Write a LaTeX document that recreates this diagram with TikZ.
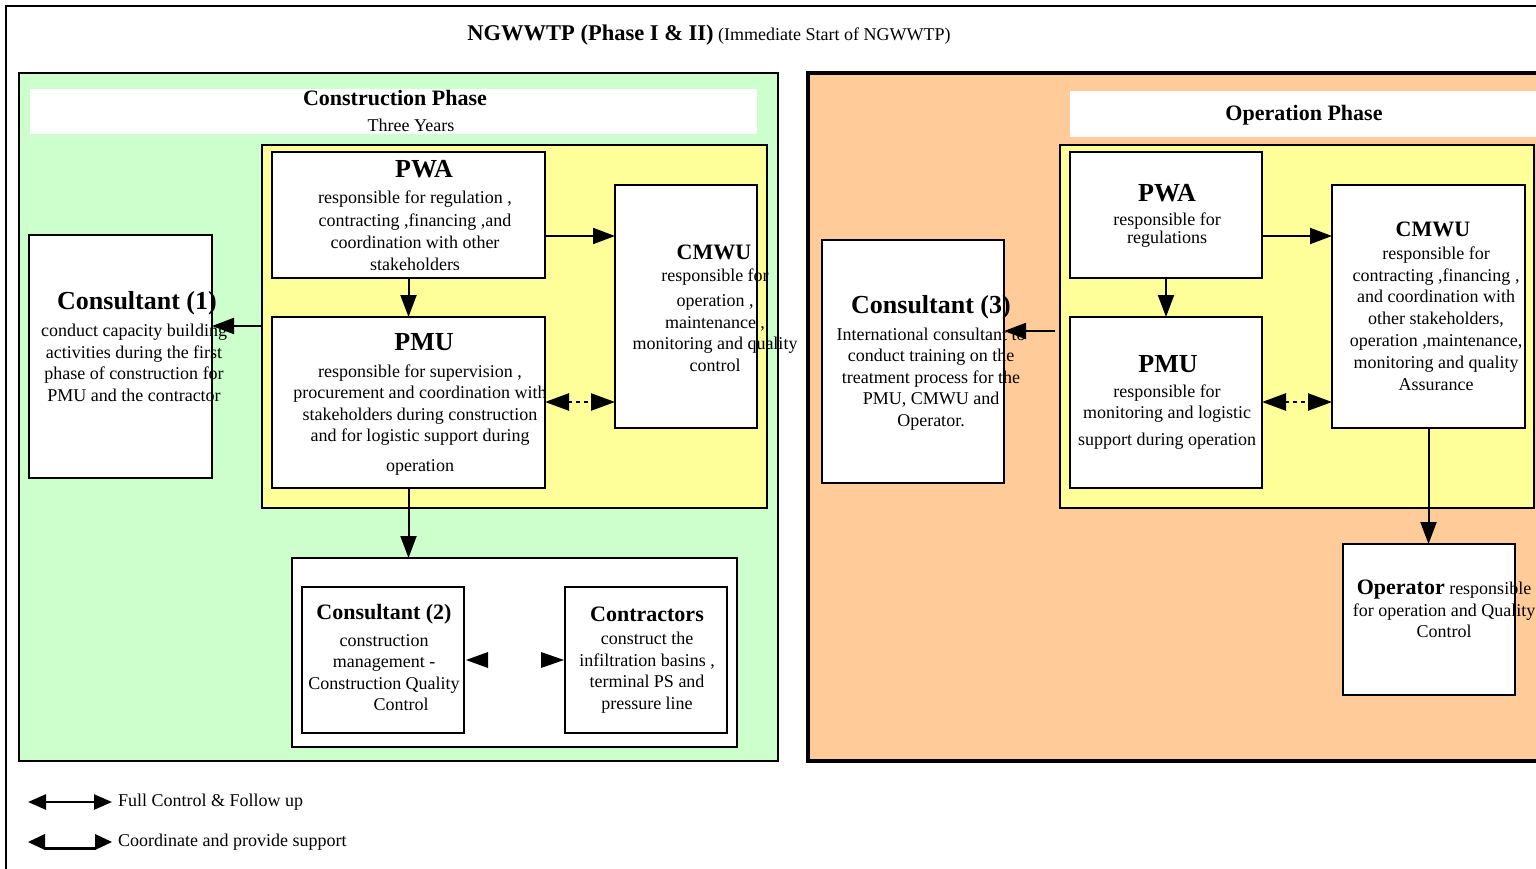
\documentclass[tikz,border=0pt]{standalone}
\usepackage{fontspec}
\setmainfont{Liberation Serif}
\usetikzlibrary{arrows.meta,calc}
\definecolor{cgreen}{HTML}{CCFFCC}
\definecolor{cyellow}{HTML}{FFFF99}
\definecolor{corange}{HTML}{FFCC99}
\newcommand{\fbody}{\fontsize{18}{21.5}\selectfont}
\newcommand{\fbig}{\fontsize{26}{30}\selectfont\bfseries}
\newcommand{\fmid}{\fontsize{22}{26}\selectfont\bfseries}
\begin{document}
\begin{tikzpicture}[x=1pt,y=-1pt,
  box/.style={draw, line width=2pt, fill=white, anchor=north west, inner sep=0pt, outer sep=0pt},
  area/.style={draw, line width=2pt, anchor=north west, inner sep=0pt, outer sep=0pt},
  tx/.style={align=center, inner sep=0pt, font=\fbody},
  big/.style={inner sep=0pt, font=\fbig},
  mid/.style={inner sep=0pt, font=\fmid},
  arr/.style={line width=2pt, -{Triangle[length=22pt,width=16pt]}},
  darr/.style={line width=2.5pt, dash pattern=on 4pt off 4pt,
    {Triangle[length=24pt,width=17pt]}-{Triangle[length=24pt,width=17pt]}},
]
\useasboundingbox (0,0) rectangle (1536,869);
\fill[white] (0,0) rectangle (1536,869);
% outer frame
\draw[line width=2.5pt] (6,869) -- (6,6) -- (1536,6);
\node[inner sep=0pt] (title) at (709,35) {\fontsize{22.5}{26}\selectfont\bfseries NGWWTP (Phase I \& II)\mdseries\fontsize{18}{20}\selectfont{} (Immediate Start of NGWWTP)};

% ---------------- construction phase ----------------
\node[area, fill=cgreen, minimum width=759pt, minimum height=688pt] (conph) at (19,73) {};
\node[anchor=north west, fill=white, inner sep=0pt, minimum width=727pt, minimum height=45pt] (contitle) at (30,89) {};
\node[mid] (conphT) at (395,98) {Construction Phase};
\node[tx] (conphY) at (411,125) {Three Years};
\node[area, fill=cyellow, minimum width=505pt, minimum height=363pt] (yelL) at (262,145) {};
\node[box, minimum width=273pt, minimum height=126pt] (pwaL) at (272,152) {};
\node[box, minimum width=273pt, minimum height=171pt] (pmuL) at (272,317) {};
\node[box, minimum width=142pt, minimum height=243pt] (cmwuL) at (615,185) {};
\node[box, minimum width=183pt, minimum height=243pt] (cons1) at (29,235) {};
\node[box, minimum width=445pt, minimum height=189pt] (botL) at (292,558) {};
\node[box, minimum width=162pt, minimum height=146pt] (cons2) at (302,587) {};
\node[box, minimum width=162pt, minimum height=146pt] (contr) at (565,587) {};

\coordinate (y236) at (0,236);
\coordinate (y402) at (0,402);
\coordinate (y326) at (0,326);
\coordinate (y331) at (0,331);
\draw[arr] (pwaL.east |- y236) -- (cmwuL.west |- y236);
\draw[arr] (pwaL.south) -- (pmuL.north);
\draw[darr] (pmuL.east |- y402) -- (cmwuL.west |- y402);
\draw[arr] (yelL.west |- y326) -- (cons1.east |- y326);
\draw[arr] (pmuL.south) -- (botL.north -| pmuL.south);
\fill (cons2.east) ++(2,0) -- ++(22,-8) -- ++(0,16) -- cycle;
\fill (contr.west) ++(-1,0) -- ++(-23,-8) -- ++(0,16) -- cycle;

\node[big] (pwaLT) at (424,169) {PWA};
\node[tx, font=\fontsize{18}{22.3}\selectfont] (pwaLt) at (415,231) {responsible for regulation ,\\ contracting ,financing ,and\\ coordination with other\\ stakeholders};
\node[big] (pmuLT) at (424,342) {PMU};
\node[tx] (pmuLt) at (420,420) {responsible for supervision ,\\ procurement and coordination with\\ stakeholders during construction\\ and for logistic support during\\[8pt] operation};
\node[mid] (cmwuLT) at (714,252) {CMWU};
\node[tx] (cmwuLt) at (715,320) {responsible for\\[4pt] operation ,\\ maintenance ,\\ monitoring and quality\\ control};
\node[big] (cons1T) at (137,303) {Consultant (1)};
\node[tx] (cons1t) at (134,363) {conduct capacity building\\ activities during the first\\ phase of construction for\\ PMU and the contractor};
\node[mid] (cons2T) at (384,614) {Consultant (2)};
\node[tx] (cons2t) at (384,672.5) {construction\\ management -\\ Construction Quality\\ \hspace*{34pt}Control};
\node[mid] (contrT) at (647,614) {Contractors};
\node[tx] (contrt) at (647,672.5) {construct the\\ infiltration basins ,\\ terminal PS and\\ pressure line};

% ---------------- operation phase ----------------
\node[area, line width=3.5pt, fill=corange, minimum width=740pt, minimum height=688pt] (opph) at (808,73) {};
\node[anchor=north west, fill=white, inner sep=0pt, minimum width=466pt, minimum height=46pt] (optitle) at (1070,91) {};
\node[mid] (opphT) at (1304,115) {Operation Phase};
\node[area, fill=cyellow, minimum width=474pt, minimum height=363pt] (yelR) at (1060,145) {};
\node[box, minimum width=192pt, minimum height=126pt] (pwaR) at (1070,152) {};
\node[box, minimum width=192pt, minimum height=171pt] (pmuR) at (1070,317) {};
\node[box, minimum width=193pt, minimum height=243pt] (cmwuR) at (1332,185) {};
\node[box, minimum width=182pt, minimum height=243pt] (cons3) at (822,240) {};
\node[box, minimum width=172pt, minimum height=151pt] (oper) at (1343,544) {};

\draw[arr] (pwaR.east |- y236) -- (cmwuR.west |- y236);
\draw[arr] (pwaR.south) -- (pmuR.north);
\draw[darr] (pmuR.east |- y402) -- (cmwuR.west |- y402);
\draw[arr] ($(yelR.west |- y331)+(-5,0)$) -- (cons3.east |- y331);
\draw[arr] (cmwuR.south) -- (cmwuR.south |- oper.north);

\node[big] (pwaRT) at (1167,193) {PWA};
\node[tx, font=\fontsize{18}{18}\selectfont] (pwaRt) at (1167,230) {responsible for\\ regulations};
\node[big] (pmuRT) at (1168,364) {PMU};
\node[tx] (pmuRt) at (1167,417) {responsible for\\ monitoring and logistic\\[5pt] support during operation};
\node[mid] (cmwuRT) at (1433,229) {CMWU};
\node[tx, font=\fontsize{18}{21.8}\selectfont] (cmwuRt) at (1436,318.5) {responsible for\\ contracting ,financing ,\\ and coordination with\\ other stakeholders,\\ operation ,maintenance,\\ monitoring and quality\\ Assurance};
\node[big] (cons3T) at (931,307) {Consultant (3)};
\node[tx] (cons3t) at (931,379) {International consultant to\\ conduct training on the\\ treatment process for the\\ PMU, CMWU and\\ Operator.};
\node[tx] (opert) at (1444,609) {{\fontsize{22}{22}\selectfont\bfseries Operator} responsible\\ for operation and Quality\\ Control};

% ---------------- legend ----------------
\coordinate (l1a) at (28,802);
\coordinate (l1b) at (112,802);
\draw[line width=2.5pt, {Triangle[length=18pt,width=15pt]}-{Triangle[length=18pt,width=15pt]}] (l1a) -- (l1b);
\node[tx, anchor=west] (l1t) at (118,802) {Full Control \& Follow up};
\coordinate (l2a) at (28,842);
\coordinate (l2b) at (112,842);
\fill (l2a) -- ++(17,-8) -- ++(0,16) -- cycle;
\fill (l2b) -- ++(-17,-8) -- ++(0,16) -- cycle;
\draw[line width=3pt] ($(l2a)+(16,6.5)$) -- ($(l2b)+(-16,6.5)$);
\node[tx, anchor=west] (l2t) at (118,842) {Coordinate and provide support};
\end{tikzpicture}
\end{document}
